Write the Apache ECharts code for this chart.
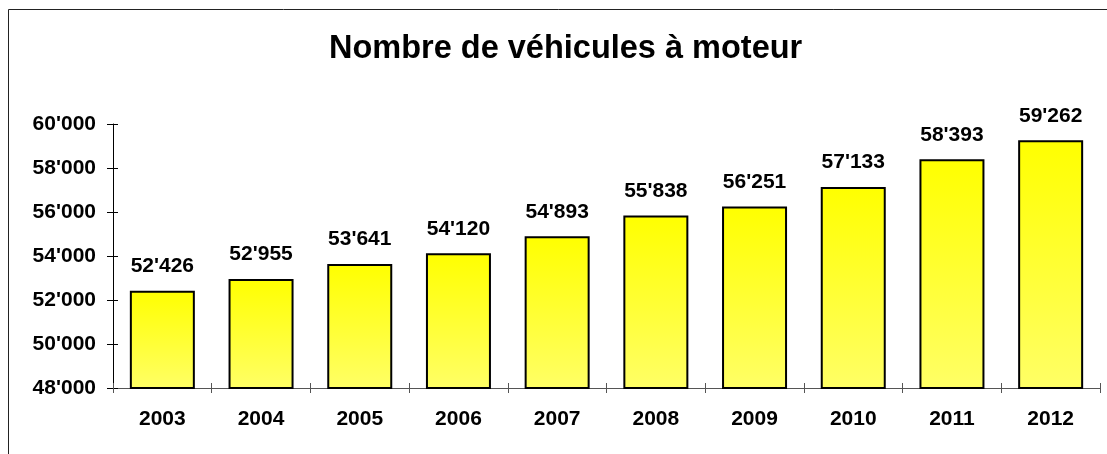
<!DOCTYPE html>
<html>
<head>
<meta charset="utf-8">
<script src="https://cdn.jsdelivr.net/npm/echarts@6/dist/echarts.min.js"></script>
<style>html,body{margin:0;padding:0;background:#fff}#c{width:1107px;height:454px}</style>
</head>
<body>
<div id="c"></div>
<script>
var years = ['2003','2004','2005','2006','2007','2008','2009','2010','2011','2012'];
var vehicles = [52426, 52955, 53641, 54120, 54893, 55838, 56251, 57133, 58393, 59262];
var yMin = 48000, yMax = 60000, yStep = 2000;

function fmt(v){ return String(v).replace(/\B(?=(\d{3})+(?!\d))/g, "'"); }

var font = '"Liberation Sans", Arial, sans-serif';
var chart = echarts.init(document.getElementById('c'));
var tickStyle = {color:'#000', width:1};
chart.setOption({
  animation:false,
  title:{text:'Nombre de véhicules à moteur', left:324, top:28,
    textStyle:{fontFamily:font, fontWeight:'bold', fontSize:32.5, color:'#000'}},
  graphic:[{type:'rect', shape:{x:8.5,y:9.5,width:1200,height:600},
    style:{fill:'none', stroke:'#222', lineWidth:1}, silent:true, z:-1}],
  grid:{left:113, right:7, top:124, bottom:66},
  xAxis:[{type:'category', data:years, boundaryGap:true,
    axisLine:{lineStyle:{color:'#555', width:1}},
    axisTick:{show:true, inside:false, length:5, lineStyle:{color:'#555'}},
    axisLabel:{fontFamily:font, fontWeight:'bold', fontSize:21, color:'#000', margin:21}},
    {type:'category', data:years, position:'bottom', boundaryGap:true,
    axisLine:{show:false}, axisTick:{show:true, inside:true, length:5, lineStyle:{color:'#555'}},
    axisLabel:{show:false}}],
  yAxis:[{type:'value', min:yMin, max:yMax, interval:yStep,
    splitLine:{show:false},
    axisLine:{show:true, lineStyle:{color:'#000', width:1}},
    axisTick:{show:true, inside:false, length:6, lineStyle:tickStyle},
    axisLabel:{fontFamily:font, fontWeight:'bold', fontSize:21, color:'#000', margin:17,
      formatter:function(v){return fmt(v);}}},
    {type:'value', min:yMin, max:yMax, interval:yStep, position:'left',
    splitLine:{show:false}, axisLine:{show:false},
    axisTick:{show:true, inside:true, length:5, lineStyle:tickStyle},
    axisLabel:{show:false}}],
  series:[{type:'bar', data:vehicles, barWidth:65,
    itemStyle:{borderColor:'#000', borderWidth:2,
      color:new echarts.graphic.LinearGradient(0,0,0,1,[{offset:0,color:'#ffff00'},{offset:1,color:'#ffff66'}])},
    label:{show:true, position:'top', distance:14, fontFamily:font, fontWeight:'bold', fontSize:21, color:'#000',
      formatter:function(p){return fmt(p.value);}}}]
});
</script>
</body>
</html>
